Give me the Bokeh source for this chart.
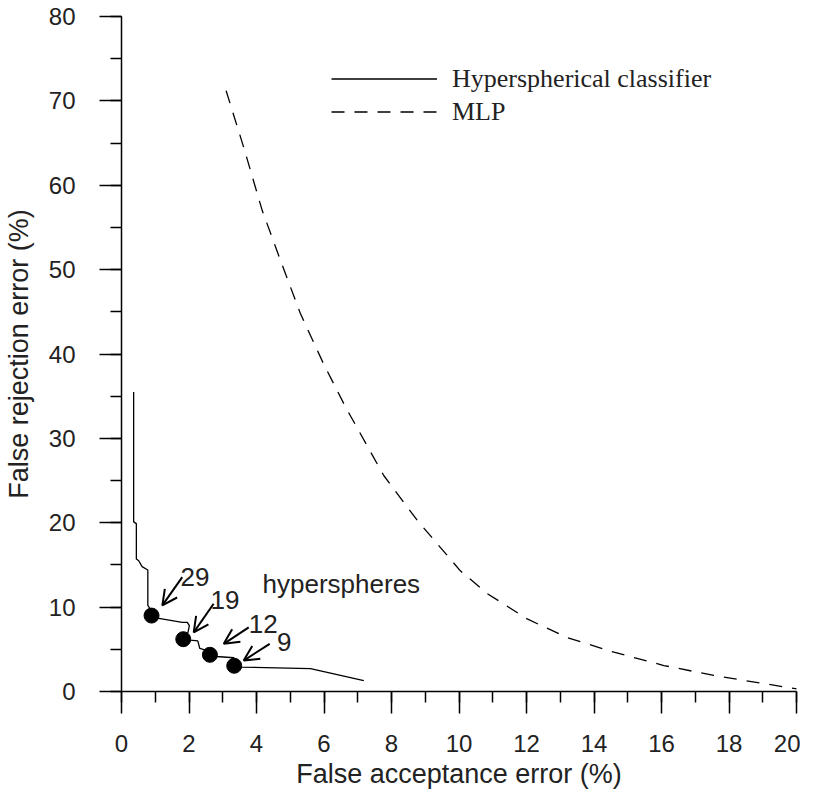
from bokeh.plotting import figure
from bokeh.models import (Legend, LegendItem, SingleIntervalTicker, Arrow, OpenHead,
                          Range1d)
from bokeh.core.properties import value
from bokeh.embed import file_html
from bokeh.resources import INLINE

# Hyperspherical classifier curve (false acceptance %, false rejection %)
hyp_fa = [0.36, 0.36, 0.44, 0.44, 0.51, 0.61, 0.78, 0.78, 0.88, 0.89, 1.06, 1.80, 1.95, 2.01,
          1.97, 1.83, 2.04, 2.26, 2.32, 2.49, 2.62, 2.81, 3.33, 3.34, 3.53, 5.60, 7.18]
hyp_fr = [35.5, 20.1, 19.9, 15.7, 15.5, 14.8, 14.4, 10.2, 9.6, 9.0, 8.7, 8.2, 8.2, 7.8,
          7.0, 6.2, 6.1, 6.0, 5.1, 4.9, 4.35, 4.15, 4.0, 3.05, 2.9, 2.7, 1.3]

# MLP curve
mlp_fa = [3.10, 3.62, 4.17, 4.71, 5.30, 5.99, 6.64, 7.77, 8.76, 10.04, 10.84, 12.02, 13.2,
          14.59, 16.07, 17.55, 20.02]
mlp_fr = [71.2, 64.5, 57.0, 51.1, 44.8, 38.8, 33.7, 25.6, 20.3, 14.3, 11.6, 8.6, 6.4,
          4.66, 3.08, 1.9, 0.3]

# Marked operating points: number of hyperspheres
pt_labels = ["29", "19", "12", "9"]
pt_fa = [0.89, 1.83, 2.62, 3.34]
pt_fr = [9.0, 6.2, 4.35, 3.05]

# annotation anchors (data units)
lab_x = [1.75, 2.64, 3.77, 4.61]
lab_y = [13.55, 10.8, 8.0, 5.85]
arr_x0 = [1.80, 2.73, 3.77, 4.39]
arr_y0 = [13.55, 10.4, 7.6, 5.65]
arr_x1 = [1.21, 2.14, 3.03, 3.62]
arr_y1 = [10.2, 7.0, 5.65, 3.67]

x_ticks_interval = 2
y_ticks_interval = 10

SANS = "Liberation Sans"
SERIF = "Liberation Serif"
TXT = "#222222"

p = figure(output_backend="svg", toolbar_location=None,
           frame_width=675, frame_height=675,
           x_range=Range1d(0, 20), y_range=Range1d(0, 80),
           min_border_left=119, min_border_top=16, min_border_right=4, min_border_bottom=98)
p.outline_line_color = None
p.xgrid.visible = False
p.ygrid.visible = False
p.background_fill_color = "white"

r_hyp = p.line(hyp_fa, hyp_fr, line_color="black", line_width=1.3)
r_mlp = p.line(mlp_fa, mlp_fr, line_color="black", line_width=1.3, line_dash="13 10")

p.scatter(pt_fa, pt_fr, size=15, color="black")

for i in range(len(pt_labels)):
    p.add_layout(Arrow(end=OpenHead(size=15, line_width=2, line_color="black"),
                       x_start=arr_x0[i], y_start=arr_y0[i], x_end=arr_x1[i], y_end=arr_y1[i],
                       line_width=2, line_color="black"))

p.text(x=lab_x, y=lab_y, text=pt_labels, text_font=value(SANS), text_font_size="26px",
       text_color=TXT, text_baseline="alphabetic", text_align="left")
p.text(x=[4.18], y=[12.8], text=["hyperspheres"], text_font=value(SANS), text_font_size="26px",
       text_color=TXT, text_baseline="alphabetic", text_align="left")

for ax, interval in ((p.xaxis[0], x_ticks_interval), (p.yaxis[0], y_ticks_interval)):
    ax.ticker = SingleIntervalTicker(interval=interval, num_minor_ticks=2)
    ax.axis_line_width = 1.5
    ax.axis_line_color = "black"
    ax.major_tick_line_width = 1.5
    ax.minor_tick_line_width = 1.5
    ax.major_tick_line_color = "black"
    ax.minor_tick_line_color = "black"
    ax.major_tick_in = 0
    ax.minor_tick_in = 0
    ax.major_tick_out = 22
    ax.minor_tick_out = 11
    ax.major_label_text_font = SANS
    ax.major_label_text_font_size = "24px"
    ax.major_label_text_color = TXT
    ax.axis_label_text_font = SANS
    ax.axis_label_text_font_size = "27px"
    ax.axis_label_text_font_style = "normal"
    ax.axis_label_text_color = TXT

p.xaxis.axis_label = "False acceptance error (%)"
p.yaxis.axis_label = "False rejection error (%)"
p.xaxis.major_label_standoff = 21
p.yaxis.major_label_standoff = 24
p.xaxis.axis_label_standoff = 4
p.yaxis.axis_label_standoff = 12

legend = Legend(items=[LegendItem(label="Hyperspherical classifier", renderers=[r_hyp]),
                       LegendItem(label="MLP", renderers=[r_mlp])],
                location=(210, 563), orientation="vertical",
                glyph_width=106, glyph_height=33, label_height=33, spacing=0,
                padding=0, margin=0, label_standoff=15,
                label_text_font=SERIF, label_text_font_size="26px", label_text_color=TXT,
                border_line_color=None, background_fill_alpha=0)
p.add_layout(legend)

open("out.html", "w").write(file_html(p, INLINE))
